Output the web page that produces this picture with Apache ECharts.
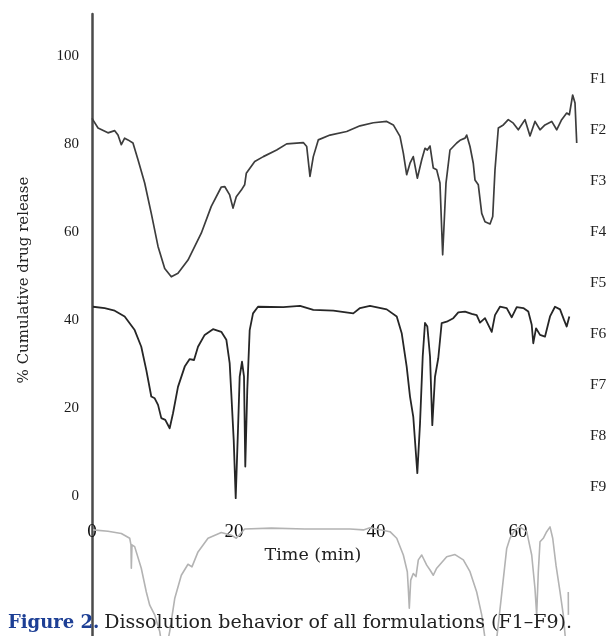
<!DOCTYPE html>
<html>
<head>
<meta charset="utf-8">
<script src="https://cdn.jsdelivr.net/npm/echarts@6/dist/echarts.min.js"></script>
<style>
  html, body { margin: 0; padding: 0; background: #fff; }
  #chart { width: 615px; height: 636px; }
</style>
</head>
<body>
<div id="chart"></div>
<script>
// axis ticks + labels
const xTicks = [0, 20, 40, 60]
const yTicks = [0, 20, 40, 60, 80, 100]
const formulations = ['F1', 'F2', 'F3', 'F4', 'F5', 'F6', 'F7', 'F8', 'F9']

// traces: [time (min), % released]
const upperTrace = [
  [0, 85.8], [0.85, 83.6], [2.25, 82.5], [3.2, 83.0], [3.66, 82.0], [4.13, 79.8], [4.6, 81.3], [5.07, 80.9],
  [5.77, 80.2], [6.48, 76.4], [7.42, 71.1], [8.35, 64.2], [9.3, 56.7], [10.24, 51.7], [11.17, 49.8], [12.11, 50.6],
  [13.52, 53.6], [15.39, 59.7], [16.8, 65.8], [18.21, 70.2], [18.69, 70.3], [19.39, 68.4], [19.86, 65.4], [20.32, 68.0],
  [21.03, 69.5], [21.5, 70.7], [21.73, 73.3], [22.92, 76.0], [24.13, 77.1], [26.01, 78.6], [27.42, 80.0], [29.76, 80.3],
  [30.24, 79.4], [30.7, 72.6], [31.17, 77.1], [31.87, 80.9], [33.52, 82.0], [35.87, 82.8], [37.75, 84.1], [39.62, 84.8],
  [41.51, 85.1], [42.44, 84.3], [43.38, 81.7], [43.85, 77.9], [44.32, 73.0], [44.79, 75.6], [45.25, 77.1], [45.82, 72.2],
  [46.44, 76.4], [46.9, 79.0], [47.23, 78.6], [47.61, 79.5], [48.07, 74.5], [48.55, 74.1], [49.01, 71.1], [49.39, 54.8],
  [49.86, 71.1], [50.42, 78.6], [51.37, 80.2], [51.83, 80.8], [52.54, 81.3], [52.77, 82.0], [53.24, 79.4], [53.7, 75.6],
  [53.94, 71.8], [54.41, 70.7], [54.89, 64.2], [55.35, 62.3], [56.06, 61.8], [56.44, 63.5], [56.76, 74.1], [57.23, 83.6],
  [57.93, 84.3], [58.63, 85.5], [59.34, 84.7], [60.04, 83.2], [60.99, 85.5], [61.69, 81.8], [62.39, 85.1], [63.1, 83.2],
  [63.8, 84.3], [64.75, 85.1], [65.45, 83.2], [66.15, 85.5], [66.86, 87.0], [67.23, 86.6], [67.7, 91.1], [68.03, 89.3],
  [68.27, 80.2]
]
const middleTrace = [
  [0.14, 43.0], [1.79, 42.7], [3.2, 42.1], [4.6, 40.8], [6.01, 37.7], [6.94, 33.9], [7.65, 28.6], [8.35, 22.6],
  [8.83, 22.2], [9.3, 20.7], [9.76, 17.7], [10.32, 17.3], [10.94, 15.4], [11.41, 18.8], [12.11, 24.8], [13.06, 29.4],
  [13.76, 31.1], [14.37, 30.9], [14.93, 33.9], [15.87, 36.6], [17.04, 37.9], [18.21, 37.3], [18.92, 35.5], [19.39, 30.2],
  [19.62, 23.3], [19.96, 12.7], [20.24, -0.5], [20.56, 15.0], [20.8, 27.1], [21.13, 30.5], [21.41, 27.1], [21.59, 6.7],
  [21.87, 24.1], [22.21, 37.7], [22.68, 41.5], [23.38, 43.0], [26.94, 42.9], [29.3, 43.2], [31.17, 42.3], [33.99, 42.1],
  [36.8, 41.5], [37.75, 42.7], [39.15, 43.2], [41.51, 42.4], [42.92, 40.8], [43.62, 37.0], [44.32, 29.4], [44.79, 22.6],
  [45.25, 18.0], [45.82, 5.2], [46.2, 16.5], [46.58, 31.7], [46.9, 39.3], [47.23, 38.5], [47.61, 31.7], [47.93, 16.1],
  [48.31, 27.1], [48.77, 31.3], [49.25, 39.3], [49.96, 39.6], [50.89, 40.4], [51.59, 41.7], [52.54, 41.9], [53.48, 41.4],
  [54.18, 41.1], [54.65, 39.4], [55.35, 40.4], [56.3, 37.3], [56.76, 41.1], [57.46, 43.0], [58.41, 42.7], [59.11, 40.6],
  [59.82, 42.9], [60.75, 42.7], [61.45, 41.9], [61.93, 38.9], [62.15, 34.7], [62.54, 38.1], [63.1, 36.6], [63.8, 36.2],
  [64.51, 40.8], [65.21, 43.0], [65.92, 42.4], [66.48, 40.0], [66.86, 38.5], [67.23, 40.8]
]
const lowerTrace = [
  [0.14, -7.7], [2.25, -8.0], [4.13, -8.5], [5.31, -9.6], [5.49, -11.1], [5.54, -16.4], [5.63, -11.1], [6.01, -11.5],
  [6.94, -16.4], [7.65, -21.8], [8.13, -24.8], [8.83, -27.0], [9.54, -30.8], [10.14, -37.3], [10.94, -30.8], [11.65, -23.3],
  [12.58, -18.0], [13.52, -15.5], [14.08, -16.1], [14.93, -12.7], [16.34, -9.6], [18.21, -8.3], [19.62, -8.9], [20.32, -9.6],
  [21.5, -7.5], [25.25, -7.3], [29.96, -7.5], [34.65, -7.5], [36.34, -7.5], [38.21, -7.7], [39.15, -7.2], [41.97, -8.1],
  [42.92, -9.6], [43.85, -13.4], [44.41, -17.2], [44.55, -21.0], [44.69, -25.5], [44.89, -19.1], [45.25, -17.6], [45.63, -18.3],
  [45.96, -14.5], [46.44, -13.4], [47.14, -15.7], [47.61, -16.8], [48.07, -18.0], [48.55, -16.4], [49.96, -13.8], [51.13, -13.3],
  [52.3, -14.5], [53.24, -17.2], [54.18, -21.8], [54.89, -27.0], [55.35, -32.3], [56.2, -38.4], [57.04, -31.8], [57.61, -23.6],
  [58.41, -11.9], [58.87, -9.6], [59.58, -7.7], [60.28, -7.0], [61.23, -8.1], [61.93, -13.4], [62.39, -21.0], [62.63, -27.0],
  [62.86, -17.2], [63.1, -10.4], [63.56, -9.6], [64.04, -8.1], [64.51, -7.0], [64.89, -9.6], [65.35, -15.7], [65.92, -21.8],
  [66.38, -27.0], [66.76, -33.9], [67.0, null], [67.08, -21.8], [67.1, -27.0]
]

const serif = "'DejaVu Serif', 'Liberation Serif', serif"
const times = "'Liberation Serif', serif"

const chart = echarts.init(document.getElementById('chart'), null, { renderer: 'canvas' })

const labelTexts = formulations.map((f, i) => ({
  type: 'text', x: 590, y: 79 + i * 51,
  style: { text: f, font: `15.5px ${times}`, fill: '#222', align: 'left', verticalAlign: 'middle' }
}))

const lineSeries = (name, data, color, width) => ({
  name, type: 'line', data, showSymbol: false, symbol: 'none', smooth: false,
  connectNulls: false, clip: true, animation: false,
  lineStyle: { color, width, join: 'round' }
})

chart.setOption({
  backgroundColor: '#fff',
  animation: false,
  grid: { left: 92, right: 26, top: 14, bottom: 0, containLabel: false },
  xAxis: {
    type: 'value', min: 0, max: 70, offset: -104,
    axisLine: { show: false, onZero: false },
    axisTick: { show: false },
    splitLine: { show: false },
    axisLabel: {
      customValues: xTicks, margin: 0, verticalAlign: 'middle',
      color: '#111', fontFamily: times, fontSize: 19
    }
  },
  yAxis: {
    type: 'value', min: -31.8, max: 109.5,
    axisLine: { show: true, lineStyle: { color: '#4a4a4a', width: 2.5 } },
    axisTick: { show: false },
    splitLine: { show: false },
    axisLabel: {
      customValues: yTicks, margin: 13,
      color: '#1a1a1a', fontFamily: times, fontSize: 15
    }
  },
  title: {
    left: 3, top: 609,
    text: '{b|Figure 2.} {r|Dissolution behavior of all formulations (F1–F9).}',
    textStyle: {
      fontWeight: 'normal',
      rich: {
        b: { fontFamily: serif, fontWeight: 'bold', fontSize: 18, color: '#1d3f95' },
        r: { fontFamily: serif, fontWeight: 'normal', fontSize: 19, color: '#222' }
      }
    }
  },
  graphic: [
    {
      type: 'text', x: 24, y: 280, rotation: Math.PI / 2,
      style: { text: '% Cumulative drug release', font: `15px ${serif}`, fill: '#222', align: 'center', verticalAlign: 'middle' }
    },
    {
      type: 'text', x: 313, y: 555,
      style: { text: 'Time (min)', font: `17.5px ${serif}`, fill: '#222', align: 'center', verticalAlign: 'middle' }
    },
    ...labelTexts
  ],
  series: [
    lineSeries('Upper', upperTrace, '#3d3d3d', 1.7),
    lineSeries('Middle', middleTrace, '#262626', 1.8),
    lineSeries('Lower', lowerTrace, '#b3b3b3', 1.6)
  ]
})
</script>
</body>
</html>
